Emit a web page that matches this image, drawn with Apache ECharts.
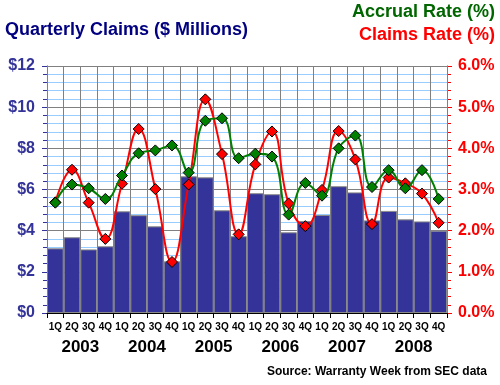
<!DOCTYPE html>
<html><head><meta charset="utf-8">
<script src="https://cdn.jsdelivr.net/npm/echarts@6/dist/echarts.min.js"></script>
<style>html,body{margin:0;padding:0;background:#fff}#c{width:500px;height:385px}</style>
</head><body><div id="c"></div>
<script>
var quarters = ['1Q','2Q','3Q','4Q','1Q','2Q','3Q','4Q','1Q','2Q','3Q','4Q','1Q','2Q','3Q','4Q','1Q','2Q','3Q','4Q','1Q','2Q','3Q','4Q'];
var years = ['2003','2004','2005','2006','2007','2008'];
var claims = [3.14,3.68,3.09,3.24,4.94,4.75,4.21,2.51,6.64,6.59,4.99,3.73,5.82,5.77,3.92,4.47,4.76,6.16,5.86,4.50,4.96,4.55,4.45,4.00];
var claimsRate = [2.69,3.48,2.68,1.80,3.14,4.47,3.01,1.24,3.12,5.19,3.86,1.91,3.61,4.41,2.66,2.11,2.99,4.42,3.73,2.16,3.29,3.15,2.90,2.19];
var accrualRate = [2.68,3.12,3.03,2.77,3.34,3.88,3.95,4.07,3.41,4.67,4.73,3.76,3.87,3.80,2.39,3.16,2.85,4.00,4.31,3.06,3.47,3.03,3.47,2.77];

var FONT = 'Liberation Sans, Arial, sans-serif';
var chart = echarts.init(document.getElementById('c'), null, {renderer:'canvas'});
chart.setOption({
  backgroundColor:'#ffffff',
  animation:false,
  grid:{left:47,right:53,top:66,bottom:72},
  graphic:[
    {type:'text',left:5,top:21,style:{text:'Quarterly Claims ($ Millions)',font:'bold 18px '+FONT,fill:'#000080'}},
    {type:'text',right:5,top:3,style:{text:'Accrual Rate (%)',font:'bold 18px '+FONT,fill:'#006600'}},
    {type:'text',right:5,top:26,style:{text:'Claims Rate (%)',font:'bold 18px '+FONT,fill:'#ff0000'}},
    {type:'text',right:13,top:366,style:{text:'Source: Warranty Week from SEC data',font:'bold 12px '+FONT,fill:'#000000'}}
  ],
  xAxis:[{
    type:'category',data:quarters,gridIndex:0,position:'bottom',z:5,
    axisLine:{show:true,lineStyle:{color:'#000',width:1}},
    axisTick:{show:true,length:5,lineStyle:{color:'#000'}},
    axisLabel:{interval:0,margin:9,color:'#000',fontFamily:FONT,fontWeight:'bold',fontSize:10},
    splitLine:{show:true,interval:0,lineStyle:{color:'#808080',width:1}}
  },{
    type:'category',data:years,gridIndex:0,position:'bottom',offset:22,
    axisLine:{show:false},axisTick:{show:false},splitLine:{show:false},
    axisLabel:{interval:0,margin:4,color:'#000',fontFamily:FONT,fontWeight:'bold',fontSize:17}
  }],
  yAxis:[{
    type:'value',min:0,max:12,interval:2,position:'left',
    axisLine:{show:true,lineStyle:{color:'#333399',width:1}},
    axisTick:{show:true,length:5,lineStyle:{color:'#333399'}},
    minorTick:{show:true,splitNumber:5,length:4,lineStyle:{color:'#333399'}},
    axisLabel:{formatter:function(v){return '$'+v;},color:'#333399',fontFamily:FONT,fontWeight:'bold',fontSize:16,margin:12},
    splitLine:{show:true,lineStyle:{color:'#808080',width:1}},
    minorSplitLine:{show:true,lineStyle:{color:'#99ccff',width:1}}
  },{
    type:'value',min:0,max:6,interval:1,position:'right',
    axisLine:{show:true,lineStyle:{color:'#ff0000',width:1}},
    axisTick:{show:true,length:5,lineStyle:{color:'#ff0000'}},
    minorTick:{show:true,splitNumber:5,length:4,lineStyle:{color:'#ff0000'}},
    axisLabel:{formatter:function(v){return v.toFixed(1)+'%';},color:'#ff0000',fontFamily:FONT,fontWeight:'bold',fontSize:16,margin:11},
    splitLine:{show:false}
  }],
  series:[{
    type:'bar',data:claims,xAxisIndex:0,yAxisIndex:0,barCategoryGap:'0%',z:2,
    itemStyle:{color:'#333399',borderColor:'#8a8a8a',borderWidth:1}
  },{
    type:'line',data:claimsRate,xAxisIndex:0,yAxisIndex:1,smooth:0.45,z:10,
    lineStyle:{color:'#ff0000',width:2},
    symbol:'diamond',symbolSize:11,
    itemStyle:{color:'#ff0000',borderColor:'#000',borderWidth:1}
  },{
    type:'line',data:accrualRate,xAxisIndex:0,yAxisIndex:1,smooth:0.45,z:11,
    lineStyle:{color:'#008000',width:2},
    symbol:'diamond',symbolSize:11,
    itemStyle:{color:'#008000',borderColor:'#000',borderWidth:1}
  }]
});
</script></body></html>
